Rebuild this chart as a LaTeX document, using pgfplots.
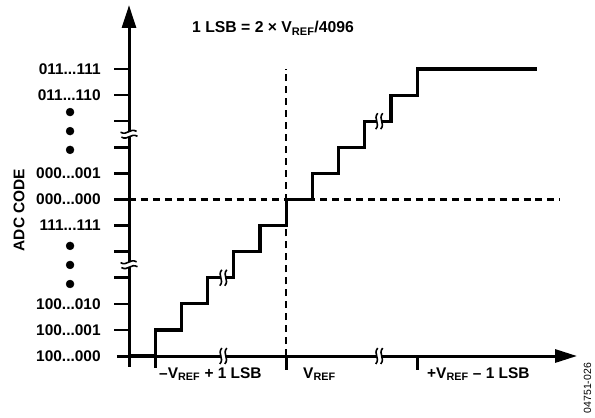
\documentclass[border=0pt]{standalone}
\usepackage{fontspec}
\setmainfont{Liberation Sans}
\usepackage{pgfplots}
\pgfplotsset{compat=1.18}
\usetikzlibrary{arrows.meta}

\newcommand{\vref}{V\textsubscript{REF}}
% break mark: x, y, rotation
\newcommand{\brk}[3]{%
  \fill[white, shift={(axis cs:#1,#2)}, rotate=#3]
    (-1.5pt,8pt) .. controls (-6.5pt,2pt) and (1.5pt,-2pt) .. (-3.5pt,-8pt)
    -- (1.5pt,-8pt) .. controls (6.5pt,-2pt) and (-1.5pt,2pt) .. (3.5pt,8pt) -- cycle;
  \draw[line width=1.6pt, shift={(axis cs:#1,#2)}, rotate=#3]
    (-1.5pt,8pt) .. controls (-6.5pt,2pt) and (1.5pt,-2pt) .. (-3.5pt,-8pt);
  \draw[line width=1.6pt, shift={(axis cs:#1,#2)}, rotate=#3]
    (3.5pt,8pt) .. controls (-1.5pt,2pt) and (6.5pt,-2pt) .. (1.5pt,-8pt);
}

\begin{document}
\begin{tikzpicture}
\begin{axis}[
    name=ax,
    width=595bp, height=418bp, scale only axis,
    xmin=-4.924, xmax=17.786,
    ymin=-2.376, ymax=13.645,
    axis lines=none,
    clip=false,
    font=\fontsize{15.5}{18}\selectfont\bfseries,
]
  % reference lines
  \addplot[black, line width=2.1pt, dash pattern=on 7pt off 5pt] coordinates {(0,6) (16.45,6)};
  \addplot[black, line width=2.1pt, dash pattern=on 7pt off 5pt] coordinates {(6,0) (6,11)};

  % transfer staircase
  \addplot[black, line width=3.2pt, line join=miter] coordinates {
    (0,0) (1,0) (1,1) (2,1) (2,2) (3,2) (3,3) (4,3) (4,4) (5,4) (5,5) (6,5) (6,6)
    (7,6) (7,7) (8,7) (8,8) (9,8) (9,9) (10,9) (10,10) (11,10) (11,11) (15.57,11)
  };

  % axes
  \addplot[black, line width=3pt, -{Triangle[length=23pt,width=14pt]}] coordinates {(0,-0.42) (0,13.45)};
  \addplot[black, line width=3pt, -{Triangle[length=22pt,width=13pt]}] coordinates {(-0.46,0) (17.1,0)};

  % ticks
  \pgfplotsinvokeforeach{1,...,11}{
    \draw[line width=2.6pt] (axis cs:-0.57,#1) -- (axis cs:0,#1);
  }
  \draw[line width=2.6pt] (axis cs:1,0) -- (axis cs:1,-0.45);
  \draw[line width=2.6pt] (axis cs:6,0) -- (axis cs:6,-0.55);
  \draw[line width=2.6pt] (axis cs:11,0) -- (axis cs:11,-0.55);

  % omitted codes
  \addplot[black, only marks, mark=*, mark size=4pt] coordinates {
    (-2.25,9.35) (-2.25,8.62) (-2.25,7.9)
    (-2.25,4.22) (-2.25,3.49) (-2.25,2.76)
  };

  % breaks
  \brk{0}{8.5}{100}
  \brk{0}{3.5}{100}
  \brk{3.6}{0}{0}
  \brk{9.55}{0}{0}
  \brk{3.6}{3}{0}
  \brk{9.55}{9}{0}

  % code labels
  \node[anchor=east] at (axis cs:-0.95,11) {011...111};
  \node[anchor=east] at (axis cs:-0.95,10) {011...110};
  \node[anchor=east] at (axis cs:-0.95,7) {000...001};
  \node[anchor=east] at (axis cs:-0.95,6) {000...000};
  \node[anchor=east] at (axis cs:-0.95,5) {111...111};
  \node[anchor=east] at (axis cs:-0.95,2) {100...010};
  \node[anchor=east] at (axis cs:-0.95,1) {100...001};
  \node[anchor=east] at (axis cs:-0.95,0) {100...000};

  \node[rotate=90] at (axis cs:-4.198,5.596) {ADC CODE};
  \node[anchor=base west, inner sep=0pt, font=\fontsize{15.8}{18}\selectfont\bfseries]
    at (axis cs:2.405,12.38) {1 LSB = 2 × \vref/4096};

  % input labels
  \node[anchor=base west, inner sep=0pt] at (axis cs:1.145,-0.843) {\textendash\vref{} + 1 LSB};
  \node[anchor=base west, inner sep=0pt] at (axis cs:6.641,-0.843) {\vref};
  \node[anchor=base west, inner sep=0pt] at (axis cs:11.374,-0.843) {+\vref{} \textendash{} 1 LSB};

  \node[rotate=90, inner sep=0pt, font=\fontsize{10.5}{12}\selectfont] at (axis cs:17.5,-1.23) {04751-026};
\end{axis}
\pgfresetboundingbox
\useasboundingbox (ax.south west) rectangle (ax.north east);
\end{tikzpicture}
\end{document}
